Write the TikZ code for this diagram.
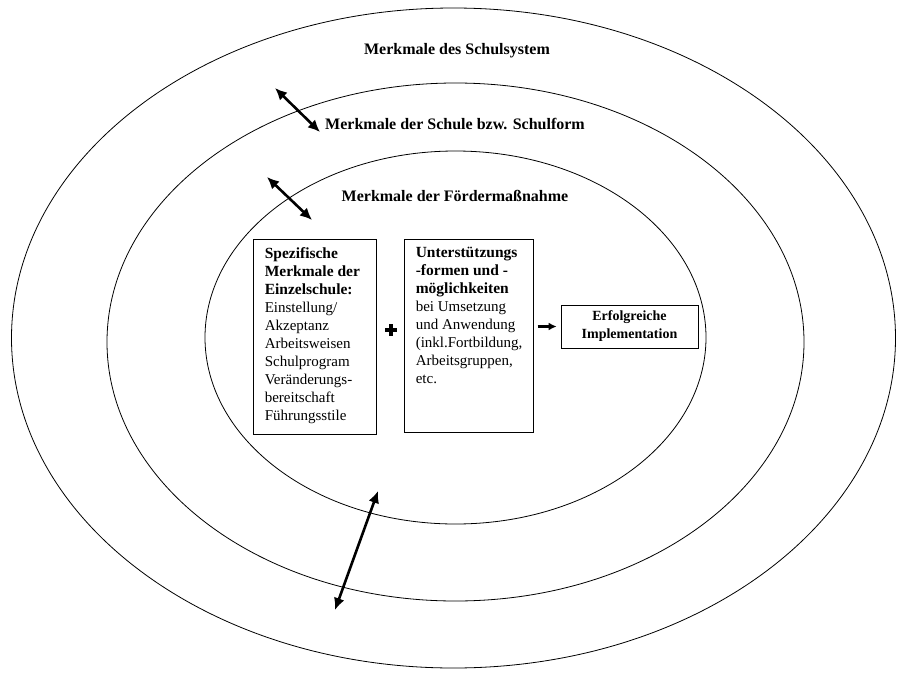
\documentclass[tikz,border=0pt]{standalone}
\usepackage{fontspec}
\setmainfont{Liberation Serif}
\usetikzlibrary{arrows.meta,calc}
\tikzset{
  ring/.style={line width=0.8pt},
  title/.style={font=\fontsize{16}{18}\selectfont\bfseries, inner sep=0pt},
  boxframe/.style={draw, line width=0.8pt, inner sep=0pt},
  boxtext/.style={anchor=north west, align=left, inner sep=0pt, font=\fontsize{15}{18}\selectfont},
  resultbox/.style={draw, line width=0.8pt, align=center, minimum width=137pt, minimum height=43pt, inner sep=0pt, font=\fontsize{14}{18}\selectfont\bfseries},
  dblarrow/.style={{Latex[length=12pt,width=11pt]}-{Latex[length=12pt,width=11pt]}, line width=2.6pt},
  onearrow/.style={-{Latex[length=8pt,width=8pt]}, line width=2.6pt},
  plusbar/.style={line width=3.6pt}
}
\begin{document}
\begin{tikzpicture}[x=1pt,y=-1pt]
\fill[white] (0,0) rectangle (898,675);
\useasboundingbox (0,0) rectangle (898,675);
% rings
\draw[ring] (453.5,338) ellipse [x radius=442pt, y radius=330pt];
\draw[ring] (455.5,342) ellipse [x radius=348.5pt, y radius=259pt];
\draw[ring] (455.5,337.5) ellipse [x radius=250.5pt, y radius=186.5pt];
% titles
\node[title] (t1) at (457,51) {Merkmale des Schulsystem};
\node[title] (t2) at (455,124) {Merkmale der Schule bzw. Schulform};
\node[title] (t3) at (455,196) {Merkmale der Fördermaßnahme};
% boxes
\node[boxframe, minimum width=123pt, minimum height=195pt] (b1) at (314.5,336.5) {};
\node[boxtext] (b1t) at ($(b1.north west)+(12,8.5)$) {{\fontsize{15.5}{18}\selectfont\bfseries Spezifische}\\{\fontsize{15.5}{18}\selectfont\bfseries Merkmale der}\\{\fontsize{15.5}{18}\selectfont\bfseries Einzelschule:}\\Einstellung/\\Akzeptanz\\Arbeitsweisen\\Schulprogram\\Veränderungs-\\bereitschaft\\Führungsstile};
\node[boxframe, minimum width=129pt, minimum height=193pt] (b2) at (468.5,335.5) {};
\node[boxtext] (b2t) at ($(b2.north west)+(12,8.5)$) {{\fontsize{15.5}{18}\selectfont\bfseries Unterstützungs}\\{\fontsize{15.5}{18}\selectfont\bfseries -formen und -}\\{\fontsize{15.5}{18}\selectfont\bfseries möglichkeiten}\\bei Umsetzung\\und Anwendung\\(inkl.Fortbildung,\\Arbeitsgruppen,\\etc.};
\node[resultbox] (b3) at (629.5,326.5) {Erfolgreiche\\Implementation};
% plus sign
\coordinate (plus) at (391,330);
\draw[plusbar] ($(plus)+(-6,0)$) -- ($(plus)+(6,0)$);
\draw[plusbar] ($(plus)+(0,-6)$) -- ($(plus)+(0,6)$);
% arrow to result
\draw[onearrow] ([xshift=-23pt]b3.west) -- ([xshift=-4pt]b3.west);
% double arrows
\coordinate (a1s) at (275,88);
\coordinate (a1e) at (320,132);
\coordinate (a2s) at (267,177);
\coordinate (a2e) at (312,220);
\coordinate (a3s) at (378,491);
\coordinate (a3e) at (335,610);
\draw[dblarrow] (a1s) -- (a1e);
\draw[dblarrow] (a2s) -- (a2e);
\draw[dblarrow] (a3s) -- (a3e);
\end{tikzpicture}
\end{document}
